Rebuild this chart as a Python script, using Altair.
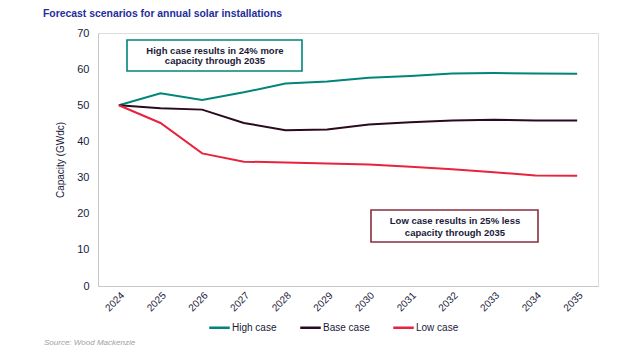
import altair as alt
import pandas as pd

years = [str(y) for y in range(2024, 2036)]
high = [50.0, 53.3, 51.5, 53.6, 56.0, 56.6, 57.6, 58.1, 58.8, 58.9, 58.8, 58.7]
base = [50.0, 49.2, 48.8, 45.1, 43.1, 43.3, 44.7, 45.3, 45.8, 46.0, 45.8, 45.8]
low = [50.0, 45.1, 36.7, 34.4, 34.2, 33.9, 33.6, 33.0, 32.3, 31.5, 30.6, 30.5]
series = ["High case", "Base case", "Low case"]
colors = ["#00857A", "#2A0A1C", "#E8233F"]

rows = []
for name, vals in zip(series, [high, base, low]):
    for y, v in zip(years, vals):
        rows.append({"Year": y, "Scenario": name, "Value": v})
df = pd.DataFrame(rows)

FONT = "Liberation Sans"

lines = alt.Chart(df).mark_line(strokeWidth=2).encode(
    x=alt.X("Year:O", sort=years, scale=alt.Scale(paddingOuter=0.5, paddingInner=0),
            axis=alt.Axis(title=None, labelAngle=-45, labelAlign="right", labelBaseline="top",
                          labelFontSize=10, labelColor="#1a1a3a", ticks=False, domainColor="#c8c8c8",
                          labelPadding=4, labelFont=FONT)),
    y=alt.Y("Value:Q", scale=alt.Scale(domain=[0, 70]),
            axis=alt.Axis(title="Capacity (GWdc)", values=list(range(0, 80, 10)), grid=False, ticks=False,
                          domainColor="#c8c8c8", labelFontSize=11, labelColor="#1a1a3a", labelPadding=9,
                          titleFontSize=10, titleFontWeight="normal", titleColor="#1a1a3a", titlePadding=11,
                          labelFont=FONT, titleFont=FONT)),
    color=alt.Color("Scenario:N", sort=series, scale=alt.Scale(domain=series, range=colors),
                    legend=alt.Legend(title=None, orient="none", direction="horizontal", legendX=110, legendY=283,
                                      symbolType="stroke", symbolStrokeWidth=2.5, symbolSize=420,
                                      labelFontSize=10, labelColor="#1a1a3a", labelFont=FONT,
                                      columnPadding=18, symbolOffset=0, labelOffset=1)),
)

box_df = pd.DataFrame({
    "x": [29, 273], "x2": [204, 440], "y": [7, 177], "y2": [38, 209],
    "c": ["#00857A", "#8A2D3E"],
})
boxes = alt.Chart(box_df).mark_rect(fill="white", strokeWidth=1.6).encode(
    x=alt.X("x:Q", scale=None), x2="x2:Q", y=alt.Y("y:Q", scale=None), y2="y2:Q",
    stroke=alt.Stroke("c:N", scale=None),
)

ann_df = pd.DataFrame({
    "tx": [117, 117, 357, 357], "ty": [18, 28, 188, 200],
    "t": ["High case results in 24% more", "capacity through 2035",
          "Low case results in 25% less", "capacity through 2035"],
})
ann = alt.Chart(ann_df).mark_text(fontWeight="bold", fontSize=9.5, color="#1a1a3a", font=FONT,
                                  align="center", baseline="middle").encode(
    x=alt.X("tx:Q", scale=None), y=alt.Y("ty:Q", scale=None), text="t:N")

src = alt.Chart(pd.DataFrame({"t": ["Source: Wood Mackenzie"]})).mark_text(
    fontStyle="italic", fontSize=8, color="#a0a0a0", font=FONT, align="left", baseline="middle").encode(
    x=alt.value(-54), y=alt.value(310), text="t:N")

chart = alt.layer(lines, boxes, ann, src).properties(
    width=500, height=253,
    padding={"left": 90, "top": 25, "right": 34, "bottom": 66},
    autosize="none",
    title=alt.TitleParams("Forecast scenarios for annual solar installations", anchor="start", dx=-1,
                          offset=8, fontSize=10.4, font=FONT, fontWeight="bold", color="#1F2D9C"),
).configure_view(stroke=None).configure(background="white")

chart.save("out.html", embed_options={"renderer": "svg", "actions": False})
